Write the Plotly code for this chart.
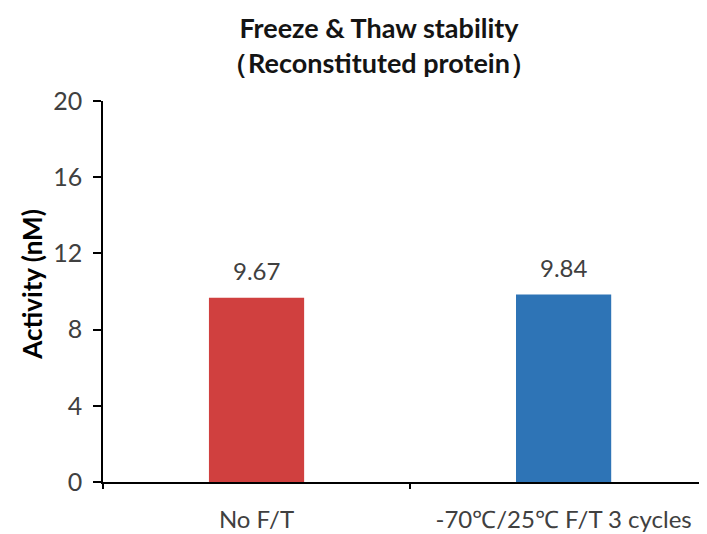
import plotly.graph_objects as go

categories = ["No F/T", "-70℃/25℃ F/T 3 cycles"]
activity = [9.67, 9.84]
value_labels = ["9.67", "9.84"]
bar_colors = ["#D0403F", "#2E74B6"]
y_ticks = [0, 4, 8, 12, 16, 20]

FONT = "Lato"
TEXT = "#404040"
W, H = 699, 526  # page adds an 8px body margin

fig = go.Figure()
fig.add_trace(go.Bar(
    x=categories, y=activity, width=0.31,
    marker=dict(color=bar_colors, line=dict(width=0)),
    showlegend=False, hoverinfo="skip",
))

for c, v, t in zip(categories, activity, value_labels):
    fig.add_annotation(x=c, y=v, text=t, showarrow=False, yshift=27,
                       font=dict(family=FONT, size=24, color=TEXT),
                       xref="x", yref="y")

fig.add_annotation(text="<b>Activity (nM)</b>", textangle=-90,
                   xref="paper", yref="paper", x=-0.1175, y=0.518,
                   xanchor="center", yanchor="middle", showarrow=False,
                   font=dict(family=FONT, size=26, color="#000000"))

fig.update_layout(
    width=W, height=H,
    margin=dict(l=95, r=0, t=93, b=52),
    paper_bgcolor="white", plot_bgcolor="white",
    title=dict(text="<b>Freeze & Thaw stability<br>（Reconstituted protein）</b>",
               x=371 / W, xanchor="center", y=1 - 30 / H, yanchor="middle",
               font=dict(family=FONT, size=27, color="#141414")),
)
fig.update_xaxes(
    type="category", range=[-0.5, 1.467],
    showline=True, linecolor="#000000", linewidth=1.5,
    ticks="outside", tickson="boundaries", ticklen=5, tickcolor="#000000", tickwidth=1.5,
    showgrid=False, zeroline=False,
    tickfont=dict(family=FONT, size=24, color=TEXT),
    ticklabelstandoff=15,
)
fig.update_yaxes(
    range=[0, 20], tickvals=y_ticks,
    showline=True, linecolor="#000000", linewidth=1.5,
    ticks="outside", ticklen=8, tickcolor="#000000", tickwidth=1.5,
    showgrid=False, zeroline=False,
    tickfont=dict(family=FONT, size=25, color=TEXT),
    ticklabelstandoff=6,
)

fig.write_html("out.html")
